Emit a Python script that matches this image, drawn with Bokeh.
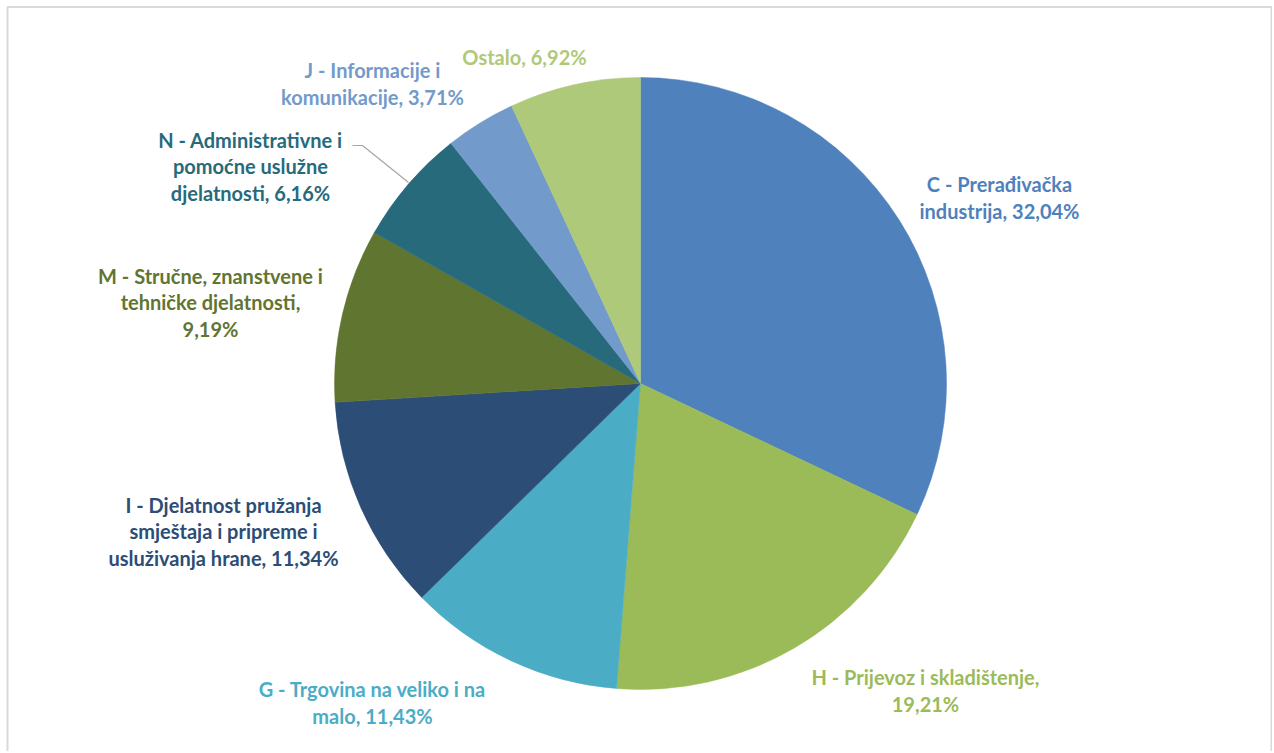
import math
from bokeh.plotting import figure
from bokeh.models import Range1d, ColumnDataSource
from bokeh.core.properties import value
from bokeh.embed import file_html
from bokeh.resources import INLINE

# ---- data ----
categories = ["C - Prerađivačka industrija", "H - Prijevoz i skladištenje",
              "G - Trgovina na veliko i na malo",
              "I - Djelatnost pružanja smještaja i pripreme i usluživanja hrane",
              "M - Stručne, znanstvene i tehničke djelatnosti",
              "N - Administrativne i pomoćne uslužne djelatnosti",
              "J - Informacije i komunikacije", "Ostalo"]
shares = [32.04, 19.21, 11.43, 11.34, 9.19, 6.16, 3.71, 6.92]
colors = ["#4F81BD", "#9BBB59", "#4BACC6", "#2C4D75", "#5F7530", "#276A7C", "#729ACA", "#AFC97A"]
label_text = [
    "C - Prerađivačka\nindustrija, 32,04%",
    "H - Prijevoz i skladištenje,\n19,21%",
    "G - Trgovina na veliko i na\nmalo, 11,43%",
    "I - Djelatnost pružanja\nsmještaja i pripreme i\nusluživanja hrane, 11,34%",
    "M - Stručne, znanstvene i\ntehničke djelatnosti,\n9,19%",
    "N - Administrativne i\npomoćne uslužne\ndjelatnosti, 6,16%",
    "J - Informacije i\nkomunikacije, 3,71%",
    "Ostalo, 6,92%",
]

W, H = 1272, 751
# layout (screen pixel coordinates)
cx_s, cy_s, R = 640, 383, 306
label_pos_s = [(999, 197), (925, 690), (372, 702), (223, 531), (210, 302), (250, 166), (372, 83), (524, 56)]


def fx(xs):
    return xs


def fy(ys):
    return H - ys


p = figure(width=W, height=H, output_backend="svg", toolbar_location=None,
           x_range=Range1d(0, W), y_range=Range1d(0, H), min_border=0)
p.axis.visible = False
p.grid.visible = False
p.outline_line_color = None
p.background_fill_color = "white"

# frame like the reference
p.line(x=[fx(7), fx(7), fx(1271), fx(1271)], y=[fy(760), fy(6.5), fy(6.5), fy(760)],
       line_color="#D9D9D9", line_width=2)

# angles: start at 12 o'clock, going clockwise
total = sum(shares)
starts, ends = [], []
acc = 0.0
for s in shares:
    a0 = math.pi / 2 - 2 * math.pi * acc / total
    acc += s
    a1 = math.pi / 2 - 2 * math.pi * acc / total
    starts.append(a0)
    ends.append(a1)

src = ColumnDataSource(dict(start=starts, end=ends, color=colors, cat=categories, share=shares))
p.wedge(x=fx(cx_s), y=fy(cy_s), radius=R, start_angle="start", end_angle="end",
        direction="clock", fill_color="color", line_color="color", line_width=0.5, source=src)

# leader line for N
p.line(x=[fx(352), fx(362), fx(408)], y=[fy(145), fy(145), fy(182)], line_color="#A6A6A6", line_width=1.2)

lsrc = ColumnDataSource(dict(x=[fx(a) for a, b in label_pos_s], y=[fy(b) for a, b in label_pos_s],
                             text=label_text, color=colors))
p.text(x="x", y="y", text="text", text_color="color", source=lsrc,
       text_font=value("Lato"), text_font_style="bold", text_font_size="20px",
       text_align="center", text_baseline="middle", text_line_height=1.1)

open("out.html", "w").write(file_html(p, INLINE))
